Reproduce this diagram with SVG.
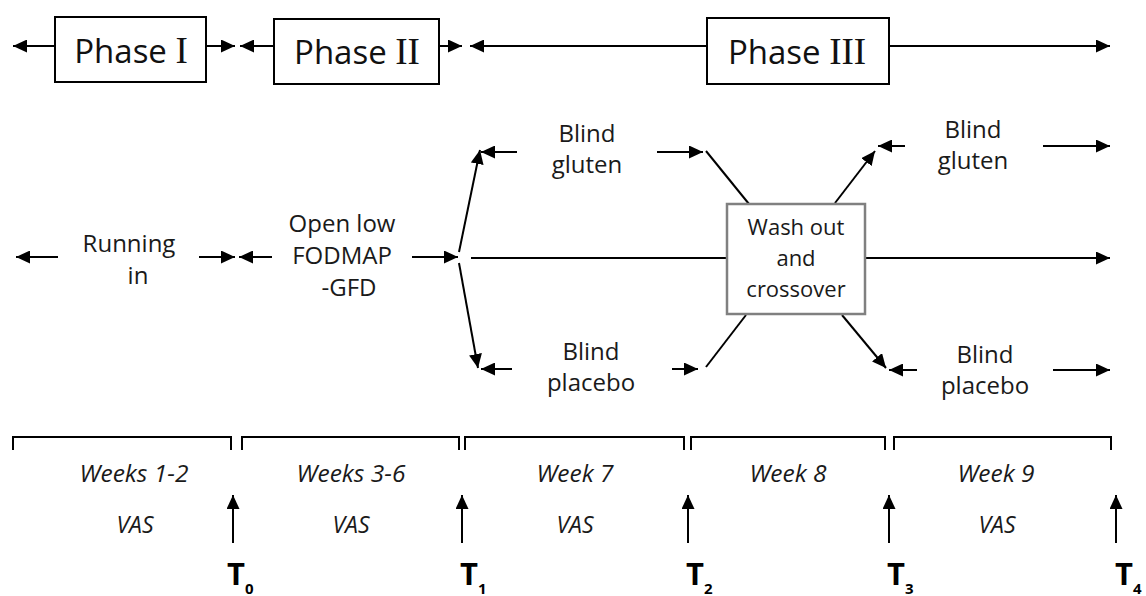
<svg xmlns="http://www.w3.org/2000/svg" width="1146" height="596" viewBox="0 0 1146 596">
<defs>
<marker id="ah" viewBox="0 0 14 13" refX="14" refY="6.5" markerWidth="14" markerHeight="13" markerUnits="userSpaceOnUse" orient="auto">
<path d="M0,0 L14,6.5 L0,13 z" fill="#000"/>
</marker>
<style>
.ln{stroke:#000;stroke-width:2;fill:none}
.ar{stroke:#000;stroke-width:2;fill:none;marker-end:url(#ah)}
.box{fill:#fff;stroke:#000;stroke-width:2}
.gbox{fill:#fff;stroke:#808080;stroke-width:2.5}
.ph{font-family:"Open Sans","DejaVu Sans",sans-serif;font-size:33px;fill:#111;text-anchor:middle}
.rn{font-family:"Liberation Serif",serif;font-size:37px}
.lb{font-family:"Open Sans","DejaVu Sans",sans-serif;font-size:24px;fill:#1a1a1a;text-anchor:middle}
.wo{font-family:"Open Sans","DejaVu Sans",sans-serif;font-size:22px;fill:#1a1a1a;text-anchor:middle}
.wk{font-family:"Open Sans","DejaVu Sans",sans-serif;font-size:24.5px;font-style:italic;fill:#1a1a1a;text-anchor:middle}
.va{font-family:"Open Sans","DejaVu Sans",sans-serif;font-size:23px;font-style:italic;fill:#1a1a1a;text-anchor:middle}
.tt{font-family:"Open Sans","DejaVu Sans",sans-serif;font-size:31px;font-weight:bold;fill:#000}
.sb{font-size:15px}
</style>
</defs>

<g id="connectors">
<!-- top phase arrows -->
<line class="ar" x1="55" y1="46" x2="13" y2="46"/>
<line class="ar" x1="206" y1="46" x2="235" y2="46"/>
<line class="ar" x1="274" y1="46" x2="240" y2="46"/>
<line class="ar" x1="439" y1="46" x2="462" y2="46"/>
<line class="ar" x1="707" y1="46" x2="470" y2="46"/>
<line class="ar" x1="889" y1="46" x2="1110" y2="46"/>
<!-- middle row -->
<line class="ar" x1="58" y1="257" x2="16" y2="257"/>
<line class="ar" x1="199" y1="257" x2="235" y2="257"/>
<line class="ar" x1="272" y1="257" x2="239" y2="257"/>
<line class="ar" x1="412" y1="257" x2="458" y2="257"/>
<line class="ar" x1="459" y1="252" x2="480" y2="150"/>
<line class="ar" x1="459" y1="263" x2="478" y2="368"/>
<line class="ln" x1="471" y1="258" x2="727" y2="258"/>
<line class="ar" x1="517" y1="152" x2="481" y2="152"/>
<line class="ar" x1="657" y1="152" x2="703" y2="152"/>
<line class="ln" x1="706" y1="151" x2="749" y2="204"/>
<line class="ar" x1="512" y1="369" x2="481" y2="369"/>
<line class="ar" x1="672" y1="369" x2="698" y2="369"/>
<line class="ln" x1="706" y1="367" x2="746" y2="315"/>
<line class="ar" x1="865" y1="258" x2="1110" y2="258"/>
<line class="ar" x1="835" y1="203" x2="875" y2="151"/>
<line class="ar" x1="905" y1="146" x2="878" y2="146"/>
<line class="ar" x1="1043" y1="146" x2="1110" y2="146"/>
<line class="ar" x1="842" y1="315" x2="886" y2="368"/>
<line class="ar" x1="917" y1="370" x2="889" y2="370"/>
<line class="ar" x1="1053" y1="370" x2="1110" y2="370"/>
<!-- brackets -->
<path class="ln" d="M13,450 V437 H231 V450"/>
<path class="ln" d="M242,450 V437 H459 V450"/>
<path class="ln" d="M465,450 V437 H684 V450"/>
<path class="ln" d="M691,450 V437 H885 V450"/>
<path class="ln" d="M894,450 V437 H1111 V450"/>
<!-- time arrows -->
<line class="ar" x1="233" y1="543" x2="233" y2="495"/>
<line class="ar" x1="462" y1="543" x2="462" y2="495"/>
<line class="ar" x1="688" y1="543" x2="688" y2="495"/>
<line class="ar" x1="889" y1="543" x2="889" y2="495"/>
<line class="ar" x1="1116" y1="543" x2="1116" y2="495"/>
</g>

<g id="phase1">
<rect class="box" x="55" y="17" width="151" height="65"/>
<text class="ph" x="131" y="63">Phase <tspan class="rn">I</tspan></text>
</g>
<g id="phase2">
<rect class="box" x="274" y="19" width="165" height="65"/>
<text class="ph" x="357" y="64">Phase <tspan class="rn">II</tspan></text>
</g>
<g id="phase3">
<rect class="box" x="707" y="18" width="182" height="66"/>
<text class="ph" x="797" y="64">Phase <tspan class="rn">III</tspan></text>
</g>

<g id="running-in">
<text class="lb" x="129" y="252">Running</text>
<text class="lb" x="138" y="284">in</text>
</g>
<g id="open-low">
<text class="lb" x="342" y="232">Open low</text>
<text class="lb" x="342" y="264">FODMAP</text>
<text class="lb" x="349" y="296">-GFD</text>
</g>
<g id="blind-gluten-1">
<text class="lb" x="587" y="142">Blind</text>
<text class="lb" x="587" y="173">gluten</text>
</g>
<g id="blind-placebo-1">
<text class="lb" x="591" y="360">Blind</text>
<text class="lb" x="591" y="391">placebo</text>
</g>
<g id="washout">
<rect class="gbox" x="727" y="204" width="138" height="110"/>
<text class="wo" x="796" y="235">Wash out</text>
<text class="wo" x="796" y="266">and</text>
<text class="wo" x="796" y="297">crossover</text>
</g>
<g id="blind-gluten-2">
<text class="lb" x="973" y="138">Blind</text>
<text class="lb" x="973" y="169">gluten</text>
</g>
<g id="blind-placebo-2">
<text class="lb" x="985" y="363">Blind</text>
<text class="lb" x="985" y="394">placebo</text>
</g>

<g id="weeks">
<text class="wk" x="134" y="482">Weeks 1-2</text>
<text class="wk" x="351" y="482">Weeks 3-6</text>
<text class="wk" x="575" y="482">Week 7</text>
<text class="wk" x="788" y="482">Week 8</text>
<text class="wk" x="996" y="482">Week 9</text>
</g>
<g id="vas">
<text class="va" x="135" y="533">VAS</text>
<text class="va" x="351" y="533">VAS</text>
<text class="va" x="575" y="533">VAS</text>
<text class="va" x="997" y="533">VAS</text>
</g>
<g id="timepoints">
<text class="tt" x="227" y="585">T<tspan class="sb" dy="9">0</tspan></text>
<text class="tt" x="460" y="585">T<tspan class="sb" dy="9">1</tspan></text>
<text class="tt" x="686" y="585">T<tspan class="sb" dy="9">2</tspan></text>
<text class="tt" x="887" y="585">T<tspan class="sb" dy="9">3</tspan></text>
<text class="tt" x="1115" y="585">T<tspan class="sb" dy="9">4</tspan></text>
</g>
</svg>
